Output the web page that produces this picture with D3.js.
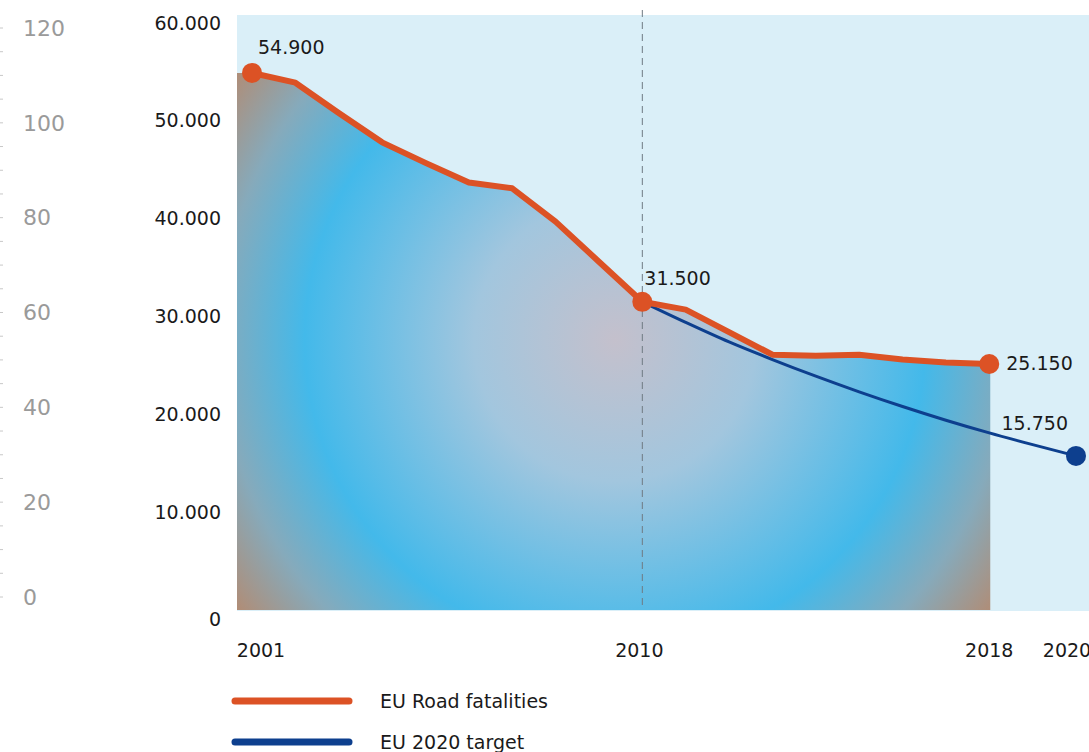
<!DOCTYPE html>
<html>
<head>
<meta charset="utf-8">
<script src="https://cdn.jsdelivr.net/npm/d3@7"></script>
<style>
  html, body { margin: 0; padding: 0; background: #ffffff; }
  svg { display: block; }
  text { font-family: "DejaVu Sans", sans-serif; }
</style>
</head>
<body>
<svg id="chart" width="1089" height="752"></svg>
<script>
// EU road fatalities 2001-2018 and the 2020 target path
const years = [2001, 2002, 2003, 2004, 2005, 2006, 2007, 2008, 2009, 2010,
               2011, 2012, 2013, 2014, 2015, 2016, 2017, 2018];
const fatalities = [54900, 53900, 50800, 47800, 45700, 43700, 43100, 39700, 35600, 31500,
                    30700, 28400, 26100, 26000, 26100, 25600, 25300, 25150];

const targetYears = [2010, 2011, 2012, 2013, 2014, 2015, 2016, 2017, 2018, 2019, 2020];
const targetValues = [31500, 29400, 27400, 25600, 23900, 22300, 20800, 19400, 18100, 16900, 15750];

const xTickYears = [2001, 2010, 2018, 2020];
const yTickValues = [0, 10000, 20000, 30000, 40000, 50000, 60000];
const indexTickValues = [0, 20, 40, 60, 80, 100, 120];

const labelledFatalityYears = [2001, 2010, 2018];
const labelledTargetYears = [2020];

const legendItems = ["EU Road fatalities", "EU 2020 target"];

const ORANGE = "#dc5225";
const NAVY = "#0d3f8e";

const svg = d3.select("#chart");

const plot = { left: 237, right: 1089, top: 15, bottom: 611 };

const x = d3.scaleLinear().domain([2001, 2020]).range([252, 1076]);
const y = d3.scaleLinear().domain([0, 60000]).range([610, 23]);
const yIndex = d3.scaleLinear().domain([0, 120]).range([597, 28]);

const eu = d3.formatLocale({ decimal: ",", thousands: ".", grouping: [3], currency: ["", "€"] });
const fmt = eu.format(",d");

// plot background
svg.append("rect")
  .attr("x", plot.left).attr("y", plot.top)
  .attr("width", plot.right - plot.left).attr("height", plot.bottom - plot.top)
  .attr("fill", "#daeff8");

// radial gradient for the area under the fatalities line
const defs = svg.append("defs");
const grad = defs.append("radialGradient")
  .attr("id", "areaGrad")
  .attr("gradientUnits", "userSpaceOnUse")
  .attr("cx", 615).attr("cy", 340).attr("r", 470);
[
  [0, "#c4c0cc"],
  [0.3, "#a2c6de"],
  [0.66, "#43b9ea"],
  [0.84, "#86aabb"],
  [1, "#b48a70"]
].forEach(([o, c]) => grad.append("stop").attr("offset", o).attr("stop-color", c));

// area: stretched from the left edge of the plot to just past the last year
const areaPoints = years.map((yr, i) => ({ px: x(yr), v: fatalities[i] }));
areaPoints.unshift({ px: plot.left, v: fatalities[0] });
areaPoints.push({ px: x(years[years.length - 1]) + 1, v: fatalities[fatalities.length - 1] });

svg.append("path")
  .datum(areaPoints)
  .attr("fill", "url(#areaGrad)")
  .attr("d", d3.area().x(d => d.px).y0(y(0)).y1(d => y(d.v)));

// dashed marker at 2010
svg.append("line")
  .attr("x1", x(2010)).attr("x2", x(2010))
  .attr("y1", 10).attr("y2", y(0))
  .attr("stroke", "#6f7a82").attr("stroke-width", 1)
  .attr("stroke-dasharray", "7,5");

// target line
svg.append("path")
  .datum(targetYears.map((yr, i) => [yr, targetValues[i]]))
  .attr("fill", "none")
  .attr("stroke", NAVY).attr("stroke-width", 3)
  .attr("d", d3.line().x(d => x(d[0])).y(d => y(d[1])).curve(d3.curveMonotoneX));

// fatalities line
svg.append("path")
  .datum(years.map((yr, i) => [yr, fatalities[i]]))
  .attr("fill", "none")
  .attr("stroke", ORANGE).attr("stroke-width", 6)
  .attr("stroke-linejoin", "round")
  .attr("d", d3.line().x(d => x(d[0])).y(d => y(d[1])));

// highlighted points
const fatalityDots = labelledFatalityYears.map(yr => ({ yr, v: fatalities[years.indexOf(yr)] }));
svg.selectAll("circle.fat").data(fatalityDots).enter().append("circle")
  .attr("class", "fat")
  .attr("cx", d => x(d.yr)).attr("cy", d => y(d.v)).attr("r", 10)
  .attr("fill", ORANGE);

const targetDots = labelledTargetYears.map(yr => ({ yr, v: targetValues[targetYears.indexOf(yr)] }));
svg.selectAll("circle.tgt").data(targetDots).enter().append("circle")
  .attr("class", "tgt")
  .attr("cx", d => x(d.yr)).attr("cy", d => y(d.v)).attr("r", 10)
  .attr("fill", NAVY);

// value labels
const labelOffsets = {
  2001: { dx: 6, dy: -19, anchor: "start" },
  2010: { dx: 2, dy: -17, anchor: "start" },
  2018: { dx: 17, dy: 6, anchor: "start" }
};
svg.selectAll("text.fatlab").data(fatalityDots).enter().append("text")
  .attr("class", "fatlab")
  .attr("x", d => x(d.yr) + labelOffsets[d.yr].dx)
  .attr("y", d => y(d.v) + labelOffsets[d.yr].dy)
  .attr("text-anchor", d => labelOffsets[d.yr].anchor)
  .attr("font-size", 19).attr("fill", "#1a1a1a")
  .text(d => fmt(d.v));

svg.selectAll("text.tgtlab").data(targetDots).enter().append("text")
  .attr("class", "tgtlab")
  .attr("x", d => x(d.yr) - 8)
  .attr("y", d => y(d.v) - 26)
  .attr("text-anchor", "end")
  .attr("font-size", 19).attr("fill", "#1a1a1a")
  .text(d => fmt(d.v));

// main value axis
const yAxis = svg.append("g");
yAxis.selectAll("text").data(yTickValues).enter().append("text")
  .attr("x", 221)
  .attr("y", d => y(d) + (d === 0 ? 9 : 0))
  .attr("dy", "0.35em")
  .attr("text-anchor", "end")
  .attr("font-size", 19).attr("fill", "#1a1a1a")
  .text(d => fmt(d));

// faint index axis at the far left
const idxAxis = svg.append("g");
idxAxis.selectAll("line").data(d3.range(0, 121, 5)).enter().append("line")
  .attr("x1", 0).attr("x2", 3)
  .attr("y1", d => yIndex(d)).attr("y2", d => yIndex(d))
  .attr("stroke", "#c8c8c8").attr("stroke-width", 1);
idxAxis.selectAll("text").data(indexTickValues).enter().append("text")
  .attr("x", 23)
  .attr("y", d => yIndex(d))
  .attr("dy", "0.35em")
  .attr("font-family", "Liberation Sans, Arial, sans-serif")
  .attr("font-size", 22).attr("fill", "#9a9a9a")
  .text(d => d);

// year axis
const xShift = { 2001: 9, 2010: -3, 2018: 0, 2020: -9 };
svg.append("g").selectAll("text").data(xTickYears).enter().append("text")
  .attr("x", d => x(d) + xShift[d])
  .attr("y", 650)
  .attr("dy", "0.35em")
  .attr("text-anchor", "middle")
  .attr("font-size", 19).attr("fill", "#1a1a1a")
  .text(d => d);

// legend
const legend = svg.append("g");
legendItems.forEach((name, i) => {
  const ly = 701 + i * 41;
  legend.append("line")
    .attr("x1", 235).attr("x2", 349)
    .attr("y1", ly).attr("y2", ly)
    .attr("stroke", i === 0 ? ORANGE : NAVY)
    .attr("stroke-width", 7).attr("stroke-linecap", "round");
  legend.append("text")
    .attr("x", 380).attr("y", ly)
    .attr("dy", "0.35em")
    .attr("font-size", 19).attr("fill", "#1a1a1a")
    .text(name);
});
</script>
</body>
</html>
